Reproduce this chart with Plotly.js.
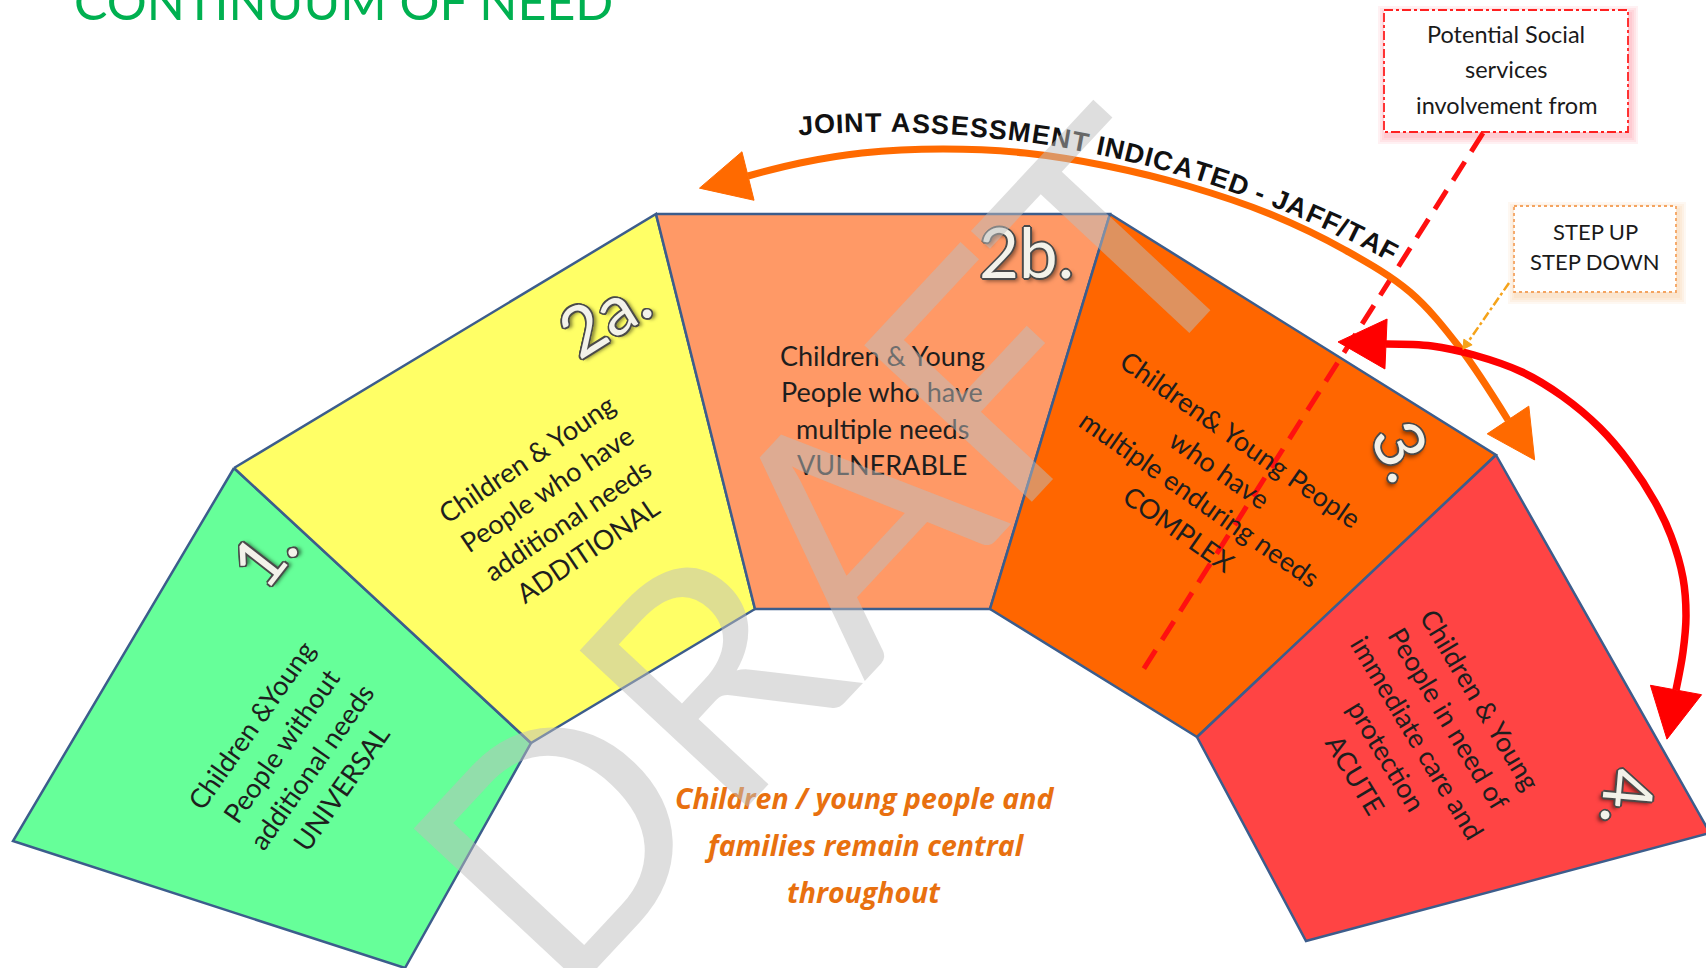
<!DOCTYPE html>
<html><head><meta charset="utf-8">
<script src="https://cdn.plot.ly/plotly-3.0.1.min.js"></script>
<style>html,body{margin:0;padding:0;background:#fff;overflow:hidden}#chart{width:1706px;height:968px}</style>
</head><body><div id="chart"></div>
<script>
// ---------------- data ----------------
const chartTitle = 'CONTINUUM OF NEED';
const stageNumbers = ['1.', '2a.', '2b.', '3.', '4.'];
const stageLevels = ['UNIVERSAL', 'ADDITIONAL', 'VULNERABLE', 'COMPLEX', 'ACUTE'];
const stageLines = [
  ['Children &Young', 'People without', 'additional needs'],
  ['Children & Young', 'People who have', 'additional needs'],
  ['Children & Young', 'People who have', 'multiple needs'],
  ['Children& Young People', 'who have', 'multiple enduring needs'],
  ['Children & Young', 'People in need of', 'immediate care and', 'protection']
];
const stageColors = ['#66ff99', '#ffff66', '#ff9966', '#ff6600', '#ff4444'];
// segment corner points (diagram units = pixels of the 1706x968 canvas)
const stageVertexX = [[234, 13, 405, 531], [234, 656, 755, 531], [656, 1110, 990, 755], [1110, 1496, 1197, 990], [1496, 1710, 1306, 1197]];
const stageVertexY = [[468, 841, 968, 743], [468, 214, 609, 743], [214, 214, 609, 609], [214, 455, 737, 609], [455, 833, 941, 737]];

const arcLabel = 'JOINT ASSESSMENT INDICATED - JAFF/TAF';
const socialBoxLines = ['Potential Social', 'services', 'involvement from'];
const stepBoxLines = ['STEP UP', 'STEP DOWN'];
const centreLines = ['Children / young people and', 'families remain central', 'throughout'];
const watermark = 'DRAFT';

// arrow guide points
const jointArrowX = [748, 800, 862, 943, 1025, 1107, 1188, 1270, 1345, 1410, 1460, 1508];
const jointArrowY = [176, 163, 153, 149, 153, 166, 186, 214, 250, 292, 348, 420];
const stepArrowX = [1386, 1432, 1474, 1522, 1562, 1600, 1629, 1655, 1671, 1683, 1686, 1683, 1676];
const stepArrowY = [344, 346, 355, 372, 396, 428, 462, 502, 536, 578, 616, 652, 690];
const socialLineX = [1483, 1138];
const socialLineY = [133, 678];
const stepLinkX = [1509, 1468];
const stepLinkY = [283, 342];

// ---------------- layout placement ----------------
const placement = {
  stageText: [
    {c: [296, 756], a: -55}, {c: [557, 504], a: -34}, {c: [882, 410], a: 0},
    {c: [1210, 484], a: 35}, {c: [1418, 737], a: 59}
  ],
  stageNum: [
    {c: [262, 554], a: -52}, {c: [603, 314], a: -32}, {c: [1026, 251], a: 0},
    {c: [1405, 450], a: 65}, {c: [1630, 797], a: 95}
  ],
  lineGap: 36.5,
  arcText: {cx: 880, cy: 1200, r: 1077, startX: 797, length: 622},
  socialBox: [1384, 10, 1628, 132], stepBox: [1514, 206, 1676, 292]
};

const traces = [];
const annotations = [];
const shapes = [];

// segments
for (let i = 0; i < stageVertexX.length; i++) {
  traces.push({
    x: stageVertexX[i].concat([stageVertexX[i][0]]),
    y: stageVertexY[i].concat([stageVertexY[i][0]]),
    mode: 'lines', fill: 'toself', fillcolor: stageColors[i],
    line: {color: '#3c5d8c', width: 2.5}, hoverinfo: 'skip'
  });
}

// social services dashed line
traces.push({x: socialLineX, y: socialLineY, mode: 'lines',
  line: {color: '#ff1010', width: 5, dash: '22px,12px'}, hoverinfo: 'skip'});

// arcs
traces.push({x: jointArrowX, y: jointArrowY, mode: 'lines',
  line: {color: '#ff6a00', width: 7, shape: 'spline', smoothing: 1}, hoverinfo: 'skip'});
traces.push({x: stepArrowX, y: stepArrowY, mode: 'lines',
  line: {color: '#ff0000', width: 7.5, shape: 'spline', smoothing: 1}, hoverinfo: 'skip'});
traces.push({x: stepLinkX, y: stepLinkY, mode: 'lines',
  line: {color: '#f5a31a', width: 2.5, dash: 'dashdot'}, hoverinfo: 'skip'});

function head(tipX, tipY, angDeg, len, hw, color) {
  const a = angDeg * Math.PI / 180;
  const dx = Math.cos(a), dy = Math.sin(a);
  const bx = tipX - len * dx, by = tipY - len * dy;
  traces.push({
    x: [tipX, bx - hw * dy, bx + hw * dy, tipX],
    y: [tipY, by + hw * dx, by - hw * dx, tipY],
    mode: 'lines', fill: 'toself', fillcolor: color, line: {color: color, width: 1}, hoverinfo: 'skip'
  });
}
function arcHead(xs, ys, atEnd, len, hw, color) {
  const n = xs.length;
  const p = atEnd ? [xs[n - 1], ys[n - 1]] : [xs[0], ys[0]];
  const q = atEnd ? [xs[n - 2], ys[n - 2]] : [xs[1], ys[1]];
  const ang = Math.atan2(p[1] - q[1], p[0] - q[0]);
  head(p[0] + len * Math.cos(ang), p[1] + len * Math.sin(ang), ang * 180 / Math.PI, len, hw, color);
}
arcHead(jointArrowX, jointArrowY, false, 50, 25, '#ff6a00');
arcHead(jointArrowX, jointArrowY, true, 48, 25, '#ff6a00');
arcHead(stepArrowX, stepArrowY, false, 48, 25, '#ff0000');
arcHead(stepArrowX, stepArrowY, true, 50, 26, '#ff0000');
arcHead(stepLinkX, stepLinkY, true, 9, 5, '#f5a31a');

// boxes with glow
function glowBox(b, line, glow, dash) {
  for (let k = 4; k >= 1; k--) {
    shapes.push({type: 'rect', xref: 'x', yref: 'y', x0: b[0] - k * 2 + 2, x1: b[2] + k * 2 + 2, y0: b[1] - k * 2 + 4, y1: b[3] + k * 2 + 4,
      line: {width: 0}, fillcolor: glow, layer: 'below'});
  }
  shapes.push({type: 'rect', xref: 'x', yref: 'y', x0: b[0], x1: b[2], y0: b[1], y1: b[3],
    line: {color: line, width: 1.8, dash: dash}, fillcolor: '#ffffff', layer: 'below'});
}
glowBox(placement.socialBox, '#ff2020', 'rgba(255,60,80,0.07)', 'dashdot');
glowBox(placement.stepBox, '#f4a460', 'rgba(247,150,70,0.07)', 'dot');

function addBlock(lines, c, ang, gap, font) {
  const a = (ang + 90) * Math.PI / 180;
  const px = Math.cos(a), py = Math.sin(a);
  const n = lines.length;
  lines.forEach((t, i) => {
    const off = (i - (n - 1) / 2) * gap;
    annotations.push({x: c[0] + off * px, y: c[1] + off * py, xref: 'x', yref: 'y', text: t,
      showarrow: false, textangle: ang, xanchor: 'center', yanchor: 'middle', font: font});
  });
}

// title
annotations.push({x: 72, y: 33, xref: 'x', yref: 'y', text: chartTitle, showarrow: false,
  xanchor: 'left', yanchor: 'bottom', font: {family: 'Lato', size: 50, color: '#00b050'}});

addBlock(socialBoxLines, [(placement.socialBox[0] + placement.socialBox[2]) / 2, 69], 0, 35.5,
  {family: 'Lato', size: 23.5, color: '#1a1a1a'});
addBlock(stepBoxLines, [(placement.stepBox[0] + placement.stepBox[2]) / 2, 246], 0, 30,
  {family: 'Lato', size: 22, color: '#1a1a1a'});

const stageFont = {family: 'Lato', size: 27, color: '#1e1e1e'};
stageLines.forEach((ls, i) => {
  addBlock(ls.concat([stageLevels[i]]), placement.stageText[i].c, placement.stageText[i].a, placement.lineGap, stageFont);
});

const numFont = {family: 'Lato', size: 69, color: '#f3f2ea',
  shadow: '2px 0 0 #4a4a4a, -2px 0 0 #4a4a4a, 0 2px 0 #4a4a4a, 0 -2px 0 #4a4a4a, 1px 1px 0 #4a4a4a, -1px -1px 0 #4a4a4a, 1px -1px 0 #4a4a4a, -1px 1px 0 #4a4a4a, 3px 3px 4px rgba(0,0,0,0.5)'};
stageNumbers.forEach((t, i) => {
  annotations.push({x: placement.stageNum[i].c[0], y: placement.stageNum[i].c[1], xref: 'x', yref: 'y', text: t,
    showarrow: false, textangle: placement.stageNum[i].a, xanchor: 'center', yanchor: 'middle', font: numFont});
});

// curved label
(function () {
  const A = placement.arcText;
  const fs = 27;
  const ctx = document.createElement('canvas').getContext('2d');
  ctx.font = 'bold ' + fs + 'px "Liberation Sans"';
  const widths = Array.from(arcLabel).map(ch => ctx.measureText(ch).width);
  const total = widths.reduce((s, w) => s + w, 0);
  const k = A.length / total;
  const phi0 = Math.asin((A.startX - A.cx) / A.r);
  let cum = 0;
  Array.from(arcLabel).forEach((ch, i) => {
    const s = (cum + widths[i] / 2) * k;
    cum += widths[i];
    if (ch === ' ') return;
    const phi = phi0 + s / A.r;
    annotations.push({x: A.cx + A.r * Math.sin(phi), y: A.cy - A.r * Math.cos(phi), xref: 'x', yref: 'y',
      text: ch, showarrow: false, textangle: phi * 180 / Math.PI, xanchor: 'center', yanchor: 'middle',
      font: {family: 'Liberation Sans', size: fs, color: '#111111', weight: 'bold'}});
  });
})();

addBlock(centreLines, [864, 845], 0, 47, {family: 'Open Sans', size: 28.5, color: '#e8700f', weight: 'bold', style: 'italic'});

// watermark on top
annotations.push({x: 822, y: 545, xref: 'x', yref: 'y', text: watermark, showarrow: false, textangle: -47,
  xanchor: 'center', yanchor: 'middle', font: {family: 'Lato', size: 320, weight: 400, color: 'rgba(190,190,190,0.5)'}});

const layout = {
  width: 1706, height: 968, margin: {l: 0, r: 0, t: 0, b: 0},
  paper_bgcolor: '#ffffff', plot_bgcolor: '#ffffff', showlegend: false,
  xaxis: {range: [0, 1706], visible: false, fixedrange: true},
  yaxis: {range: [968, 0], visible: false, fixedrange: true},
  shapes: shapes, annotations: annotations
};
Plotly.newPlot('chart', traces, layout, {staticPlot: true, displayModeBar: false});
</script></body></html>
